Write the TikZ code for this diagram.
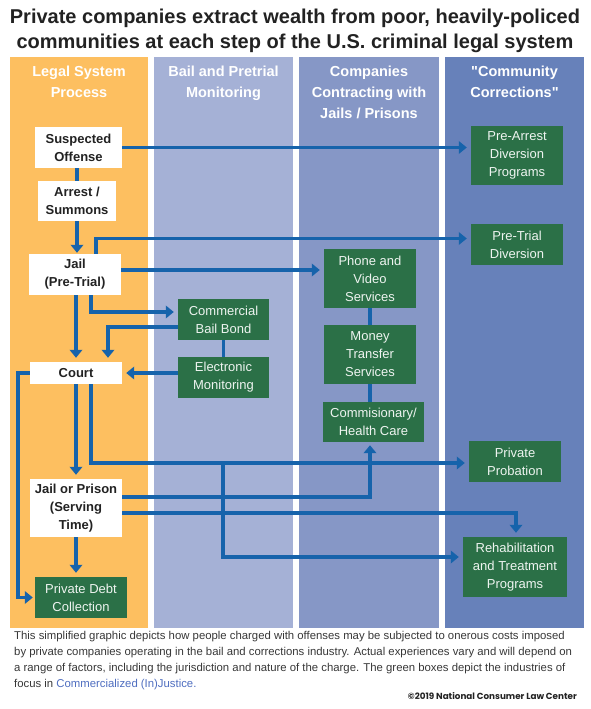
\documentclass[tikz,border=0pt]{standalone}
\usepackage{fontspec}
\setmainfont{Liberation Sans}[Ligatures=TeXOff]
\newfontfamily\creditfont{Poppins}
\usetikzlibrary{arrows.meta,positioning}

\definecolor{ink}{RGB}{34,34,34}
\definecolor{legalcol}{RGB}{253,191,96}
\definecolor{bailcol}{RGB}{165,177,214}
\definecolor{jailcol}{RGB}{134,151,198}
\definecolor{commcol}{RGB}{103,129,186}
\definecolor{industry}{RGB}{43,112,71}
\definecolor{flowblue}{RGB}{22,99,171}
\definecolor{linkblue}{RGB}{79,110,192}

\begin{document}
\begin{tikzpicture}[x=1pt, y=-1pt]
	\tikzstyle{header} = [anchor=north, inner sep=0pt, align=center, text=white, font=\bfseries\fontsize{14.5}{21}\selectfont]
	\tikzstyle{process} = [fill=white, text=ink, inner sep=0pt, align=center, font=\bfseries\fontsize{13}{18}\selectfont]
	\tikzstyle{company} = [fill=industry, text=white!92!industry, inner sep=0pt, align=center, font=\fontsize{13}{18}\selectfont]
	\tikzstyle{flow} = [draw=flowblue, line width=3.2pt, -{Triangle[width=12.5pt,length=8pt]}, shorten >=4pt]
	\tikzstyle{tie} = [draw=flowblue, line width=3.2pt]

	\useasboundingbox (0,0) rectangle (590,709);
	\fill[white] (0,0) rectangle (590,709);

	% title
	\node[text=ink, align=center, font=\bfseries\fontsize{20}{24.5}\selectfont] (title) at (295,31) {Private companies extract wealth from poor, heavily-policed\\communities at each step of the U.S. criminal legal system};

	% columns
	\fill[legalcol] (10,57) rectangle (148,628);
	\fill[bailcol] (154,57) rectangle (293,628);
	\fill[jailcol] (299,57) rectangle (439,628);
	\fill[commcol] (445,57) rectangle (584,628);
	\node[header] (hlegal) at (79,66) {Legal System\\Process};
	\node[header] (hbail) at (223.5,66) {Bail and Pretrial\\Monitoring};
	\node[header] (hjail) at (369,66) {Companies\\Contracting with\\Jails / Prisons};
	\node[header] (hcomm) at (514.5,66) {"Community\\Corrections"};

	% legal system process
	\node[process, minimum width=87pt, minimum height=41pt] (offense) at (78.5,147.5) {Suspected\\Offense};
	\node[process, minimum width=78pt, minimum height=40pt] (arrest) at (77,201) {Arrest /\\Summons};
	\node[process, minimum width=92pt, minimum height=41pt] (jailpre) at (75,274.5) {Jail\\(Pre-Trial)};
	\node[process, minimum width=92pt, minimum height=22pt] (court) at (76,373) {Court};
	\node[process, minimum width=92pt, minimum height=58pt] (jailserve) at (76,508) {Jail or Prison\\(Serving\\Time)};
	\node[company, minimum width=92pt, minimum height=41pt] (debt) at (81,597.5) {Private Debt\\Collection};

	% bail and monitoring
	\node[company, minimum width=91pt, minimum height=41pt] (bail) at (223.5,319.5) {Commercial\\Bail Bond};
	\node[company, minimum width=91pt, minimum height=41pt] (monitor) at (223.5,377.5) {Electronic\\Monitoring};

	% jail contractors
	\node[company, minimum width=92pt, minimum height=59pt] (phone) at (370,278.5) {Phone and\\Video\\Services};
	\node[company, minimum width=92pt, minimum height=59pt] (money) at (370,354.5) {Money\\Transfer\\Services};
	\node[company, minimum width=101pt, minimum height=40pt] (commis) at (373.5,422) {Commisionary/\\Health Care};

	% community corrections
	\node[company, minimum width=92pt, minimum height=59pt] (prearrest) at (517,155.5) {Pre-Arrest\\Diversion\\Programs};
	\node[company, minimum width=92pt, minimum height=41pt] (pretrial) at (517,244.5) {Pre-Trial\\Diversion};
	\node[company, minimum width=92pt, minimum height=41pt] (probation) at (515,461.5) {Private\\Probation};
	\node[company, minimum width=104pt, minimum height=60pt] (rehab) at (515,567) {Rehabilitation\\and Treatment\\Programs};

	% bends
	\coordinate (trialbend) at (96,238.5);
	\coordinate (phoneline) at (121,270);
	\coordinate (bailbend) at (91,312);
	\coordinate (bondback) at (108,327);
	\coordinate (debtbend) at (18,597.5);
	\coordinate (probbend) at (91,463);
	\coordinate (rehabsplit) at (223,463);
	\coordinate (rehabbend) at (223,557);
	\coordinate (commisbend) at (370,497);
	\coordinate (rehabtop) at (516,513);

	% connectors
	\draw[flow] (offense.east) -- (offense.east -| prearrest.west);
	\draw[tie] (arrest.north |- offense.south) -- (arrest.north);
	\draw[flow, shorten >=1pt] (arrest.south) -- (arrest.south |- jailpre.north);
	\draw[flow] (jailpre.north -| trialbend) -- (trialbend) -- (trialbend -| pretrial.west);
	\draw[flow] (phoneline) -- (phoneline -| phone.west);
	\draw[flow] (court.north |- jailpre.south) -- (court.north);
	\draw[flow] (jailpre.south -| bailbend) -- (bailbend) -- (bailbend -| bail.west);
	\draw[flow] (bail.west |- bondback) -- (bondback) -- (bondback |- court.north);
	\draw[tie] (bail.south) -- (monitor.north);
	\draw[flow] (monitor.west |- court.east) -- (court.east);
	\draw[flow, shorten >=2pt] (court.west) -| (debtbend) -- (debt.west);
	\draw[flow] (court.south) -- (jailserve.north);
	\draw[flow] (court.south -| probbend) -- (probbend) -- (probbend -| probation.west);
	\draw[flow] (rehabsplit) -- (rehabbend) -- (rehabbend -| rehab.west);
	\draw[flow, shorten >=3pt] (jailserve.east |- commisbend) -- (commisbend) -- (commisbend |- commis.south);
	\draw[flow] (jailserve.east |- rehabtop) -- (rehabtop) -- (rehabtop |- rehab.north);
	\draw[flow] (jailserve.south) -- (jailserve.south |- debt.north);
	\draw[tie] (phone.south) -- (money.north);
	\draw[tie] (money.south) -- (money.south |- commis.north);

	% note
	\node[anchor=north west, inner sep=0pt, align=left, text=ink!90, font=\fontsize{11.35}{15.7}\selectfont] (note) at (14,631.5) {This simplified graphic depicts how people charged with offenses may be subjected to onerous costs imposed\\by private companies operating in the bail and corrections industry. Actual experiences vary and will depend on\\a range of factors, including the jurisdiction and nature of the charge. The green boxes depict the industries of\\focus in \textcolor{linkblue}{Commercialized (In)Justice.}};
	\node[anchor=east, inner sep=0pt, text=ink, font=\creditfont\bfseries\fontsize{8.8}{10}\selectfont] (credit) at (577,696) {©2019 National Consumer Law Center};
\end{tikzpicture}
\end{document}
